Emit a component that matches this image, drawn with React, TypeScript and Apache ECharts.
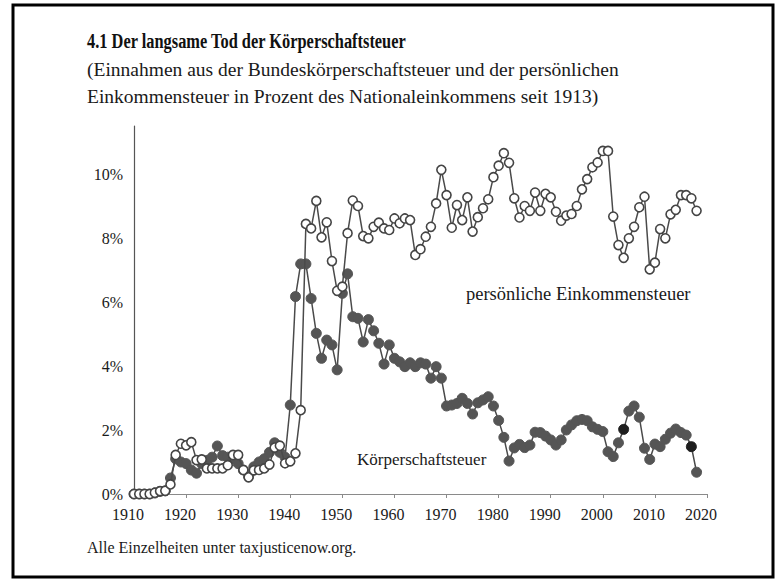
import React, { useEffect, useRef } from "react";
import * as echarts from "echarts";

const START_YEAR = 1910;
const X_TICKS = [1910, 1920, 1930, 1940, 1950, 1960, 1970, 1980, 1990, 2000, 2010, 2020];
const Y_TICKS = [0, 2, 4, 6, 8, 10];

// persönliche Einkommensteuer, % of national income, 1910–2018
const personal = [
  0, 0, 0, 0, 0.04, 0.09, 0.1, 0.3, 1.22, 1.57,
  1.52, 1.62, 1.06, 1.08, 0.8, 0.8, 0.8, 0.8, 0.9, 1.22,
  1.22, 0.75, 0.52, 0.74, 0.75, 0.8, 0.92, 1.45, 1.51, 0.96,
  1.02, 1.27, 2.62, 8.44, 8.3, 9.16, 8.02, 8.49, 7.28, 6.35,
  6.48, 8.15, 9.17, 9.0, 8.06, 7.99, 8.35, 8.48, 8.3, 8.25,
  8.61, 8.46, 8.61, 8.56, 7.47, 7.65, 8.04, 8.35, 9.08, 10.13,
  9.34, 8.32, 9.03, 8.56, 9.27, 8.2, 8.65, 8.93, 9.21, 9.9,
  10.26, 10.65, 10.35, 9.24, 8.64, 9.0, 8.85, 9.42, 8.85, 9.38,
  9.27, 8.82, 8.54, 8.7, 8.75, 9.0, 9.52, 9.84, 10.21, 10.36,
  10.72, 10.72, 8.67, 7.78, 7.38, 7.99, 8.35, 8.96, 9.29, 7.02,
  7.23, 8.28, 7.99, 8.74, 8.88, 9.34, 9.34, 9.24, 8.85,
];

// Körperschaftsteuer, % of national income, 1910–2018
const corporate = [
  0, 0, 0, 0, 0.03, 0.08, 0.1, 0.5, 1.1, 1.0,
  0.95, 0.75, 0.65, 0.95, 1.05, 1.15, 1.5, 1.2, 1.15, 1.1,
  0.95, 0.75, 0.55, 0.85, 1.0, 1.1, 1.3, 1.6, 1.3, 1.15,
  2.78, 6.17, 7.19, 7.19, 6.11, 5.02, 4.24, 4.81, 4.66, 3.88,
  6.27, 6.88, 5.54, 5.49, 4.75, 5.45, 5.1, 4.71, 4.06, 4.66,
  4.24, 4.13, 3.98, 4.1, 3.98, 4.1, 4.06, 3.62, 3.98, 3.62,
  2.75, 2.78, 2.83, 2.99, 2.83, 2.5, 2.85, 2.94, 3.04, 2.75,
  2.3, 1.77, 1.03, 1.44, 1.55, 1.45, 1.53, 1.93, 1.92, 1.81,
  1.69, 1.53, 1.69, 2.0, 2.16, 2.29, 2.33, 2.29, 2.1, 2.02,
  1.95, 1.32, 1.17, 1.6, 2.02, 2.59, 2.75, 2.4, 1.43, 1.08,
  1.56, 1.48, 1.71, 1.9, 2.03, 1.92, 1.84, 1.48, 0.68,
];
const DARK_YEARS = [2004, 2017];

const TITLE = "4.1 Der langsame Tod der Körperschaftsteuer";
const SUB1 = "(Einnahmen aus der Bundeskörperschaftsteuer und der persönlichen";
const SUB2 = "Einkommensteuer in Prozent des Nationaleinkommens seit 1913)";
const FOOTER = "Alle Einzelheiten unter taxjusticenow.org.";
const LABEL_PERSONAL = "persönliche Einkommensteuer";
const LABEL_CORP = "Körperschaftsteuer";

const FONT = "'Liberation Serif', 'DejaVu Serif', serif";
const INK = "#4a4a4a";

export default function App() {
  const ref = useRef<HTMLDivElement>(null);
  useEffect(() => {
    if (!ref.current) return;
    const chart = echarts.init(ref.current, null, { renderer: "svg" });
    const personalData = personal.map((v, i) => [START_YEAR + i, v]);
    const corpData = corporate.map((v, i) => {
      const y = START_YEAR + i;
      if (DARK_YEARS.includes(y)) {
        return { value: [y, v], itemStyle: { color: "#1e1e1e", borderColor: "#1e1e1e" } };
      }
      return [y, v];
    });
    chart.setOption({
      animation: false,
      backgroundColor: "#ffffff",
      grid: { left: 134, top: 126, width: 573, height: 368 },
      xAxis: {
        type: "value",
        min: 1910,
        max: 2020,
        interval: 10,
        axisLine: { show: true, lineStyle: { color: "#8a8a8a", width: 1.2 } },
        axisTick: { show: true, length: 4, lineStyle: { color: "#8a8a8a" } },
        splitLine: { show: false },
        axisLabel: {
          color: "#1a1a1a",
          fontFamily: FONT,
          fontSize: 16,
          margin: 12,
          padding: [0, 12, 0, 0],
          formatter: (v: number) => (X_TICKS.includes(v) ? String(v) : ""),
        },
      },
      yAxis: {
        type: "value",
        min: 0,
        max: 11.5,
        interval: 2,
        axisLine: { show: true, lineStyle: { color: "#555", width: 1.2 } },
        axisTick: { show: false },
        splitLine: { show: false },
        axisLabel: {
          color: "#1a1a1a",
          fontFamily: FONT,
          fontSize: 16,
          margin: 11,
          formatter: (v: number) => (Y_TICKS.includes(v) ? v + "%" : ""),
        },
      },
      series: [
        {
          name: LABEL_CORP,
          type: "line",
          data: corpData,
          symbol: "circle",
          symbolSize: 10,
          lineStyle: { color: INK, width: 1.5 },
          itemStyle: { color: "#555", borderColor: "#555", borderWidth: 1 },
          z: 2,
        },
        {
          name: LABEL_PERSONAL,
          type: "line",
          data: personalData,
          symbol: "circle",
          symbolSize: 9,
          lineStyle: { color: INK, width: 1.5 },
          itemStyle: { color: "#ffffff", borderColor: "#444", borderWidth: 1.6 },
          z: 3,
        },
      ],
      graphic: [
        {
          type: "rect",
          shape: { x: 13, y: 5, width: 760, height: 572 },
          style: { fill: "none", stroke: "#000", lineWidth: 3 },
          silent: true,
        },
        {
          type: "text",
          x: 87,
          y: 31,
          scaleX: 0.82,
          style: {
            text: TITLE,
            font: `bold 20px ${FONT}`,
            fill: "#111",
            align: "left",
            verticalAlign: "top",
          },
        },
        {
          type: "text",
          left: 87,
          top: 59,
          style: { text: SUB1, font: `19.5px ${FONT}`, fill: "#1a1a1a" },
        },
        {
          type: "text",
          left: 87,
          top: 86,
          style: { text: SUB2, font: `19.5px ${FONT}`, fill: "#1a1a1a" },
        },
        {
          type: "text",
          left: 87,
          top: 539,
          style: { text: FOOTER, font: `16px ${FONT}`, fill: "#1a1a1a" },
        },
        {
          type: "text",
          left: 466,
          top: 284,
          style: { text: LABEL_PERSONAL, font: `18.5px ${FONT}`, fill: "#1a1a1a" },
        },
        {
          type: "text",
          left: 357,
          top: 451,
          style: { text: LABEL_CORP, font: `17px ${FONT}`, fill: "#1a1a1a" },
        },
      ],
    });
    return () => chart.dispose();
  }, []);
  return (
    <div
      ref={ref}
      style={{ position: "absolute", left: 0, top: 0, width: 776, height: 579 }}
    />
  );
}
